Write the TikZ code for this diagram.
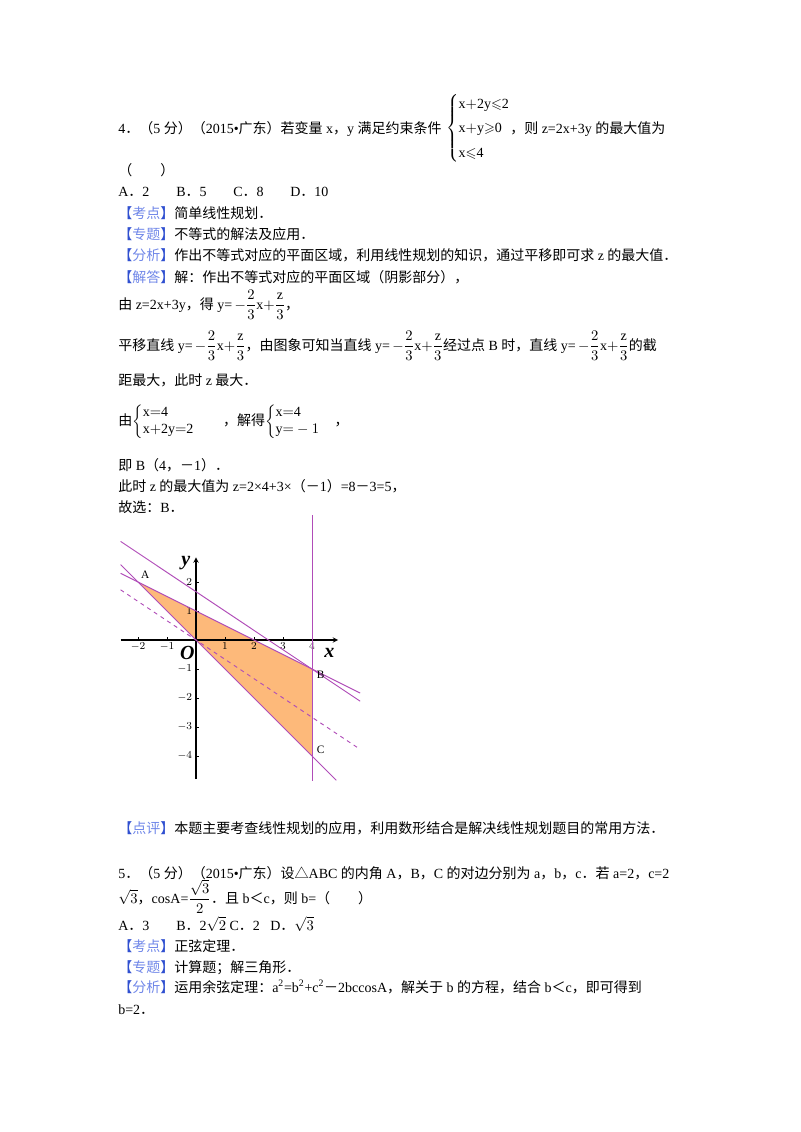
\documentclass[tikz,border=0pt]{standalone}
\usepackage{amsmath,amssymb}
\usepackage{fontspec}
\setmainfont{Liberation Serif}
\newfontfamily\cjk{Noto Sans CJK SC}
\XeTeXinterchartokenstate=1
\newXeTeXintercharclass\CJKcls
\makeatletter
\def\setcjkrange#1#2{\count@=#1\relax\loop\XeTeXcharclass\count@=\CJKcls\ifnum\count@<#2\relax\advance\count@ by 1\repeat}
\makeatother
\setcjkrange{"4E00}{"9FFF}
\setcjkrange{"3000}{"303F}
\setcjkrange{"FF00}{"FFEF}
\XeTeXcharclass"25B3=\CJKcls
\XeTeXinterchartoks 0 \CJKcls = {\begingroup\cjk}
\XeTeXinterchartoks 4095 \CJKcls = {\begingroup\cjk}
\XeTeXinterchartoks \CJKcls 0 = {\endgroup}
\XeTeXinterchartoks \CJKcls 4095 = {\endgroup}
\definecolor{lbl}{HTML}{2F4FD0}
\definecolor{lbltxt}{HTML}{6F86E8}
\definecolor{purp}{HTML}{B04CB8}
\definecolor{fillor}{HTML}{FDB97A}
\newcommand{\mytag}[1]{{\color{lbl}【}{\color{lbltxt}#1}{\color{lbl}】}}
\tikzset{txt/.style={anchor=base west,inner sep=0pt,font=\fontsize{10.5pt}{13pt}\selectfont},
 pline/.style={draw=purp,line width=0.7pt},
 tick/.style={font=\fontsize{8.5pt}{9pt}\selectfont,inner sep=1pt}}
\begin{document}
\begin{tikzpicture}[x=0.75pt,y=-0.75pt]
\useasboundingbox (0,0) rectangle (800,1132);
\node[txt] (l1) at (118,133) {4．（5 分）（2015•广东）若变量 x，y 满足约束条件};
\node[anchor=west,inner sep=0pt,font=\fontsize{10.5pt}{13pt}\selectfont] (sys) at (446,128)
 {$\renewcommand{\arraystretch}{1.4}\left\{\begin{array}{@{}l@{}}\mathrm{x{+}2y}{\leqslant}\mathrm{2}\\ \mathrm{x{+}y}{\geqslant}\mathrm{0}\\ \mathrm{x}{\leqslant}\mathrm{4}\end{array}\right.$};
\node[txt] (l1b) at (510,133) {，则 z=2x+3y 的最大值为};
\node[txt] (l2) at (118,175) {（　　）};
\node[txt] (oa) at (118,196) {A．2};
\node[txt] (ob) at (176,196) {B．5};
\node[txt] (oc) at (233,196) {C．8};
\node[txt] (od) at (290,196) {D．10};
\node[txt] (k1) at (118,218) {\mytag{考点}简单线性规划．};
\node[txt] (k2) at (118,239) {\mytag{专题}不等式的解法及应用．};
\node[txt] (k3) at (118,260) {\mytag{分析}作出不等式对应的平面区域，利用线性规划的知识，通过平移即可求 z 的最大值．};
\node[txt] (k4) at (118,282) {\mytag{解答}解：作出不等式对应的平面区域（阴影部分），};
\node[txt] (s1) at (118,309) {由 z=2x+3y，得 y=\,$-\dfrac{2}{3}\mathrm{x}{+}\dfrac{\mathrm{z}}{3}$，};
\node[txt] (s2) at (118,350) {平移直线 y=\,$-\dfrac{2}{3}\mathrm{x}{+}\dfrac{\mathrm{z}}{3}$，由图象可知当直线 y=\,$-\dfrac{2}{3}\mathrm{x}{+}\dfrac{\mathrm{z}}{3}$经过点 B 时，直线 y=\,$-\dfrac{2}{3}\mathrm{x}{+}\dfrac{\mathrm{z}}{3}$的截};
\node[txt] (s3) at (118,385) {距最大，此时 z 最大．};
\node[txt] (s4) at (118,425) {由$\left\{\begin{array}{@{}l@{}}\mathrm{x{=}4}\\ \mathrm{x{+}2y{=}2}\end{array}\right.$\qquad ，解得$\left\{\begin{array}{@{}l@{}}\mathrm{x{=}4}\\ \mathrm{y{=}}-1\end{array}\right.$\quad ，};
\node[txt] (s5) at (118,470) {即 B（4，－1）．};
\node[txt] (s6) at (118,491) {此时 z 的最大值为 z=2×4+3×（－1）=8－3=5，};
\node[txt] (s7) at (118,512) {故选：B．};
% graph
\begin{scope}[shift={(196,640)},x=21.75pt,y=21.75pt]
\fill[fillor] (-2,2) coordinate (A) -- (4,-1) coordinate (B) -- (4,-4) coordinate (C) -- cycle;
\draw[->,>=stealth,line width=0.8pt] (-2.6,0) -- (4.9,0);
\draw[->,>=stealth,line width=0.8pt] (0,-4.8) -- (0,2.85);
\foreach \i in {-2,-1,1,2,3,4} \draw (\i,0) -- (\i,0.1);
\foreach \i in {-4,-3,-2,-1,1,2} \draw (0,\i) -- (0.1,\i);
\foreach \i in {-2,-1,1,2,3,4} \node[tick,anchor=north] (tx\i) at (\i,-0.05) {$\i$};
\foreach \i in {-4,-3,-2,-1,1,2} \node[tick,anchor=east] (ty\i) at (-0.08,\i) {$\i$};
\draw[pline] (-2.6,2.3) -- (5.66,-1.83);
\draw[pline] (-2.6,3.4) -- (5.66,-2.11);
\draw[pline] (-2.6,2.6) -- (4.84,-4.84);
\draw[pline,dashed] (-2.6,1.73) -- (5.66,-3.77);
\draw[pline] (4,4.3) -- (4,-4.85);
\node[tick] (la) at (-1.75,2.25) {A};
\node[tick] (lb) at (4.3,-1.2) {B};
\node[tick] (lc) at (4.3,-3.8) {C};
\node[font=\fontsize{15pt}{15pt}\selectfont\bfseries\itshape] (ly) at (-0.35,2.65) {y};
\node[font=\fontsize{15pt}{15pt}\selectfont\bfseries\itshape] (lx) at (4.6,-0.45) {x};
\node[font=\fontsize{15pt}{15pt}\selectfont\bfseries\itshape] (lo) at (-0.3,-0.45) {O};
\end{scope}
\node[txt] (p1) at (118,833) {\mytag{点评}本题主要考查线性规划的应用，利用数形结合是解决线性规划题目的常用方法．};
\node[txt] (q1) at (118,878) {5．（5 分）（2015•广东）设△ABC 的内角 A，B，C 的对边分别为 a，b，c．若 a=2，c=2};
\node[txt] (q2) at (118,903) {$\sqrt{3}$，cosA=$\dfrac{\sqrt{3}}{2}$．且 b＜c，则 b=（　　）};
\node[txt] (qa) at (118,930) {A．3};
\node[txt] (qb) at (176,930) {B．2$\sqrt{2}$ C．2};
\node[txt] (qd) at (270,930) {D．$\sqrt{3}$};
\node[txt] (r1) at (118,951) {\mytag{考点}正弦定理．};
\node[txt] (r2) at (118,972) {\mytag{专题}计算题；解三角形．};
\node[txt] (r3) at (118,992) {\mytag{分析}运用余弦定理：a\textsuperscript{2}=b\textsuperscript{2}+c\textsuperscript{2}－2bccosA，解关于 b 的方程，结合 b＜c，即可得到};
\node[txt] (r4) at (118,1014) {b=2．};
\end{tikzpicture}
\end{document}
